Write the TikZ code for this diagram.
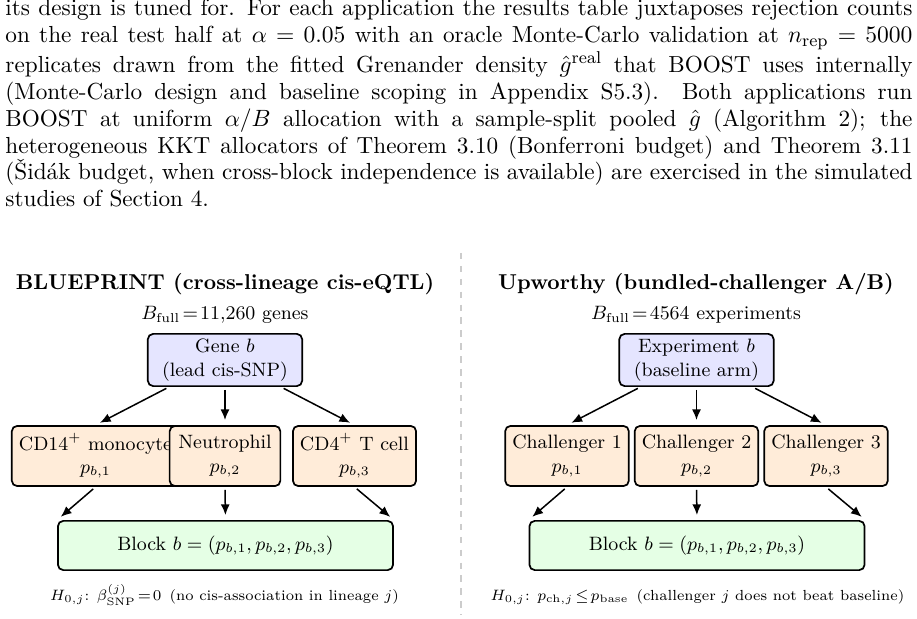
\documentclass[tikz,border=0pt]{standalone}
\usetikzlibrary{arrows.meta,calc}
\begin{document}
\begin{tikzpicture}[x=0.46512pt,y=-0.46512pt,
  box/.style={draw=black, line width=0.8pt, rounded corners=2.5pt, align=center, font=\small},
  topbox/.style={box, fill=blue!10, minimum width=71.8pt, minimum height=24.3pt, inner sep=2pt},
  midbox/.style={box, fill=orange!15, minimum width=51.5pt, minimum height=28pt, inner xsep=3.3pt},
  botbox/.style={box, fill=green!10, minimum width=155.9pt, minimum height=22.9pt},
  arr/.style={-{Latex[length=5pt,width=4.2pt]}, line width=0.7pt, shorten <=1.4pt, shorten >=2.3pt},
  ttl/.style={font=\bfseries, anchor=base, inner sep=0pt},
  sub/.style={font=\small, anchor=base, inner sep=0pt},
  hyp/.style={font=\fontsize{6.8}{8.2}\selectfont, anchor=base, inner sep=0pt},
  sep/.style={dashed, draw=black!20, line width=0.5pt}]
\useasboundingbox (0,0) rectangle (917,619);

\node[anchor=base west, inner sep=0pt] (para) at (5,16) {\parbox[t]{421.9pt}{\fontsize{10.8}{12.5}\selectfont\tolerance=10000\emergencystretch=5pt
its design is tuned for. For each application the results table juxtaposes rejection counts\linebreak
on the real test half at $\alpha = 0.05$ with an oracle Monte-Carlo validation at $n_{\mathrm{rep}} = 5000$\linebreak
replicates drawn from the fitted Grenander density $\hat{g}^{\mathrm{real}}$ that BOOST uses internally\linebreak
(Monte-Carlo design and baseline scoping in Appendix S5.3).  Both applications run\linebreak
BOOST at uniform $\alpha/B$ allocation with a sample-split pooled $\hat{g}$ (Algorithm 2); the\linebreak
heterogeneous KKT allocators of Theorem 3.10 (Bonferroni budget) and Theorem 3.11\linebreak
(\v{S}id\'ak budget, when cross-block independence is available) are exercised in the simulated\linebreak
studies of Section 4.}};

% separator
\coordinate (septop) at (461,253);
\coordinate (sepbot) at (461,615);
\draw[sep] (septop) -- (sepbot);

% ---------- left panel ----------
\node[ttl] (t1) at (225,290) {BLUEPRINT (cross-lineage cis-eQTL)};
\node[sub] (n1) at (225,320) {$B_{\mathrm{full}}\!=\!11{,}260$ genes};
\node[topbox] (gene) at (225,360) {Gene $b$\\(lead cis-SNP)};
\node[midbox] (cd14) at (95.5,456) {CD14$^+$ monocyte\\$p_{b,1}$};
\node[midbox] (neu) at (225,456) {Neutrophil\\$p_{b,2}$};
\node[midbox] (cd4) at (354.5,456) {CD4$^+$ T cell\\$p_{b,3}$};
\node[botbox] (blk1) at (225.5,545.5) {Block $b=(p_{b,1},p_{b,2},p_{b,3})$};
\node[hyp] (h1) at (224.5,600) {$H_{0,j}$: $\beta^{(j)}_{\mathrm{SNP}}\!=\!0$\ \,(no cis-association in lineage $j$)};

\draw[arr] ($(gene.south)+(-56,0)$) -- (cd14.north);
\draw[arr] (gene.south) -- (neu.north);
\draw[arr] ($(gene.south)+(56,0)$) -- (cd4.north);
\draw[arr] (cd14.south) -- (blk1.north west);
\draw[arr] (neu.south) -- (blk1.north);
\draw[arr] (cd4.south) -- (blk1.north east);

% ---------- right panel ----------
\node[ttl] (t2) at (696,290) {Upworthy (bundled-challenger A/B)};
\node[sub] (n2) at (696,320) {$B_{\mathrm{full}}\!=\!4564$ experiments};
\node[topbox] (exp) at (696.5,360) {Experiment $b$\\(baseline arm)};
\node[midbox] (c1) at (567,456) {Challenger 1\\$p_{b,1}$};
\node[midbox] (c2) at (696.5,456) {Challenger 2\\$p_{b,2}$};
\node[midbox] (c3) at (826,456) {Challenger 3\\$p_{b,3}$};
\node[botbox] (blk2) at (697,545.5) {Block $b=(p_{b,1},p_{b,2},p_{b,3})$};
\node[hyp] (h2) at (697.5,600) {$H_{0,j}$: $p_{\mathrm{ch},j}\!\le\! p_{\mathrm{base}}$\ \,(challenger $j$ does not beat baseline)};

\draw[arr] ($(exp.south)+(-56,0)$) -- (c1.north);
\draw[arr] (exp.south) -- (c2.north);
\draw[arr] ($(exp.south)+(56,0)$) -- (c3.north);
\draw[arr] (c1.south) -- (blk2.north west);
\draw[arr] (c2.south) -- (blk2.north);
\draw[arr] (c3.south) -- (blk2.north east);
\end{tikzpicture}
\end{document}
